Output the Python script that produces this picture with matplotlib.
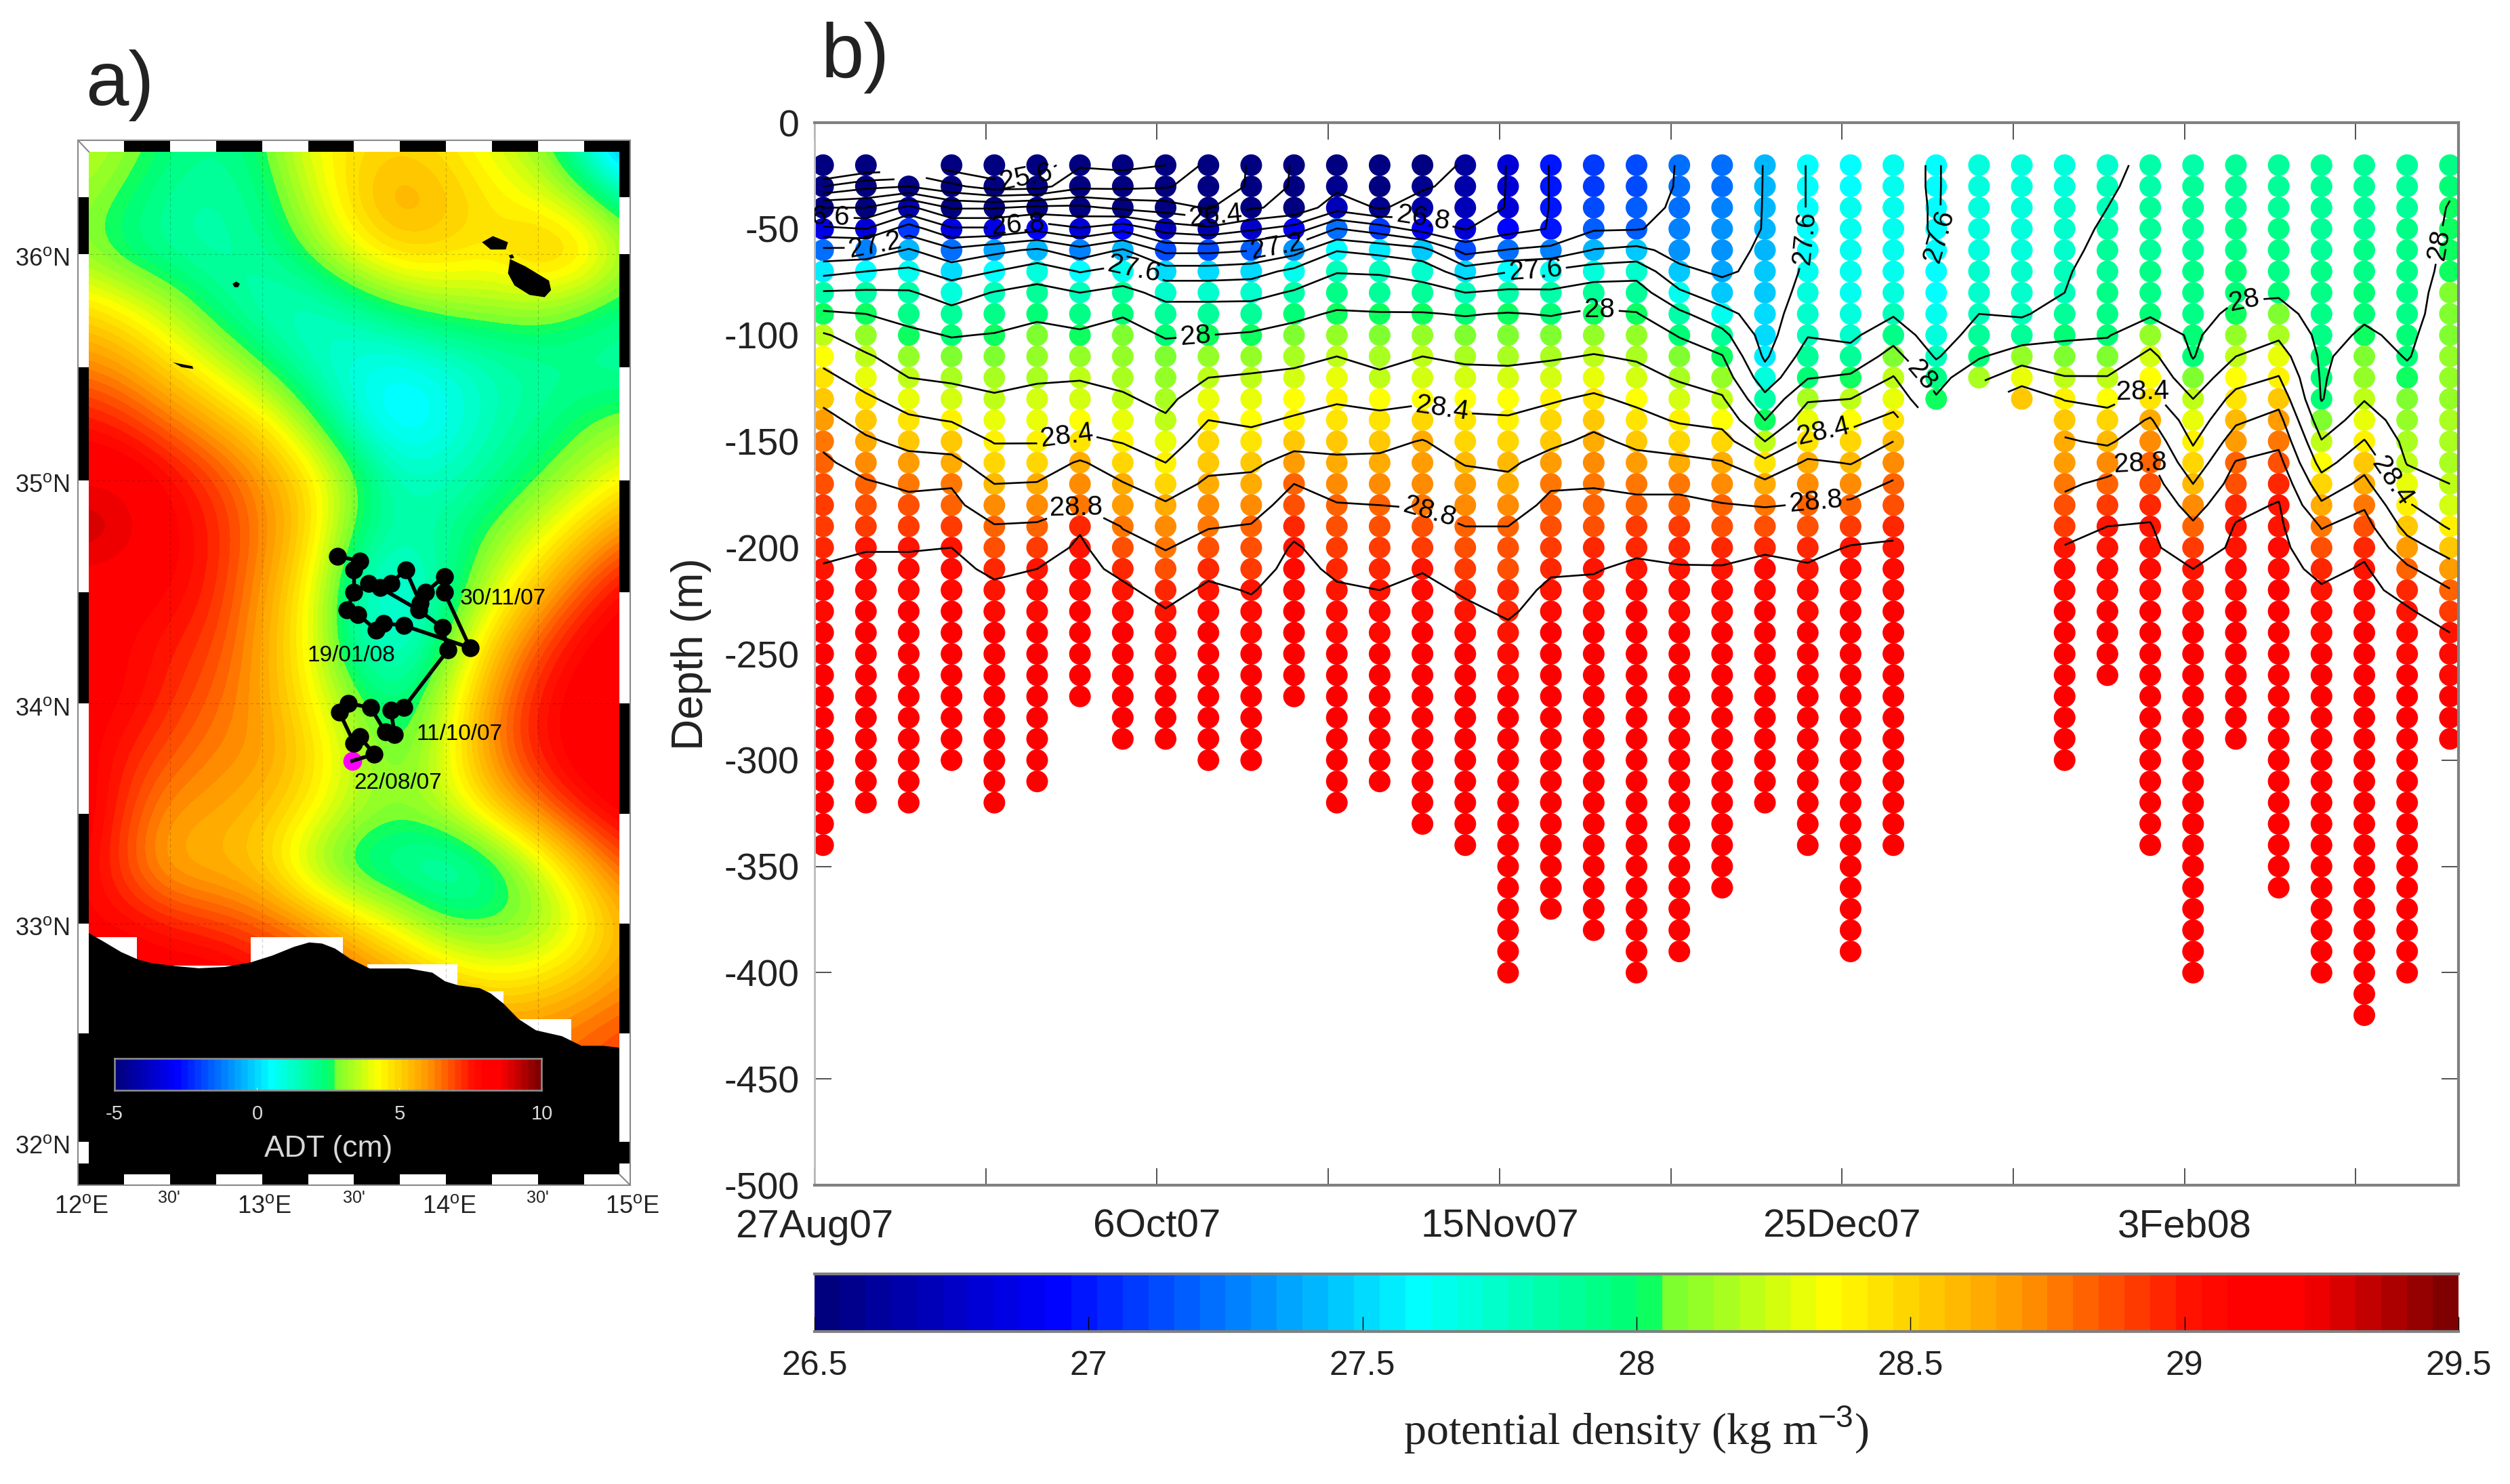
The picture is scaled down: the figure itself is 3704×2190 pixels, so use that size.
"""Map of ADT with the glider track (a) and potential density section (b)."""

import numpy as np
import matplotlib
matplotlib.use("Agg")
import matplotlib.pyplot as plt
from matplotlib.colors import LinearSegmentedColormap
from matplotlib.patches import Rectangle

W, H = 3704, 2190

plt.rcParams['font.family'] = ['Liberation Sans', 'DejaVu Sans']
plt.rcParams['mathtext.fontset'] = 'custom'
plt.rcParams['mathtext.rm'] = 'Liberation Sans'
plt.rcParams['mathtext.default'] = 'rm'
plt.rcParams['axes.unicode_minus'] = False

# ---- panel a data ----
adt_lon = [12.0, 12.25, 12.5, 12.75, 13.0, 13.25, 13.5, 13.75, 14.0, 14.25, 14.5, 14.75, 15.0]
adt_lat = [36.5, 36.25, 36.0, 35.75, 35.5, 35.25, 35.0, 34.75, 34.5, 34.25, 34.0, 33.75, 33.5,
           33.25, 33.0, 32.75, 32.5, 32.25]
adt_cm = [
    [3.8, 3.2, 2.4, 2.0, 2.6, 4.1, 4.7, 4.9, 4.6, 3.9, 3.0, 1.2, -2.0],
    [3.2, 2.6, 1.9, 1.7, 2.2, 3.6, 5.0, 5.8, 5.3, 4.6, 4.0, 3.0, 1.6],
    [3.0, 2.2, 1.8, 1.6, 1.9, 2.8, 4.2, 5.0, 4.9, 4.6, 5.6, 5.2, 3.4],
    [4.9, 4.3, 3.4, 2.2, 1.4, 1.2, 1.8, 2.6, 3.1, 3.2, 3.2, 2.7, 2.2],
    [6.2, 5.8, 4.8, 3.8, 2.6, 1.4, 0.8, 0.6, 1.0, 1.5, 1.8, 1.8, 1.6],
    [7.7, 7.2, 6.4, 5.5, 4.6, 3.0, 1.0, 0.0, 0.6, 1.5, 2.0, 2.6, 3.0],
    [8.5, 8.5, 7.8, 7.0, 6.0, 4.8, 3.0, 1.4, 1.4, 1.9, 2.6, 3.4, 4.3],
    [9.2, 9.0, 8.1, 7.4, 6.3, 5.0, 2.6, 1.6, 2.0, 2.8, 3.8, 5.0, 6.3],
    [8.3, 8.2, 8.0, 7.3, 6.0, 4.4, 1.6, 0.8, 1.8, 3.6, 5.2, 6.8, 8.0],
    [8.0, 8.0, 7.5, 7.0, 5.8, 4.2, 1.7, 0.9, 2.6, 5.0, 6.8, 8.0, 8.4],
    [8.2, 8.0, 7.3, 6.6, 5.8, 4.5, 2.9, 2.0, 3.6, 6.0, 7.6, 8.3, 8.6],
    [8.2, 7.5, 6.8, 6.2, 6.0, 5.0, 3.6, 2.5, 4.0, 6.2, 7.6, 8.4, 8.8],
    [8.5, 7.2, 6.0, 5.8, 5.4, 4.6, 3.4, 3.1, 3.6, 5.0, 6.4, 7.6, 8.3],
    [8.2, 6.9, 5.5, 5.4, 5.0, 3.2, 2.0, 1.5, 1.2, 2.0, 3.6, 5.4, 7.0],
    [8.0, 7.8, 7.4, 7.0, 6.6, 6.0, 4.8, 3.8, 2.6, 2.5, 2.9, 4.1, 5.6],
    [8.4, 8.6, 8.4, 8.4, 7.8, 7.4, 6.6, 5.8, 5.0, 4.4, 4.6, 5.2, 6.0],
    [8.6, 8.6, 8.6, 8.6, 8.4, 8.0, 7.6, 7.0, 6.6, 6.2, 6.2, 6.6, 7.0],
    [8.6, 8.6, 8.6, 8.6, 8.4, 8.0, 7.6, 7.0, 6.8, 6.6, 6.6, 6.8, 7.2],
]

track_lon = [13.49, 13.61, 13.53, 13.50, 13.42, 13.47, 13.59, 13.67, 13.72, 13.70, 13.77, 14.01,
             13.98, 13.85, 13.64, 13.58, 13.70, 13.78, 13.86, 13.89, 13.99, 13.99, 14.13,
             13.77, 13.66, 13.62, 13.52, 13.46, 13.50, 13.50, 13.53, 13.41]
track_lat = [33.74, 33.77, 33.85, 33.82, 33.96, 34.00, 33.98, 33.87, 33.86, 33.97, 33.98, 34.24,
             34.34, 34.42, 34.52, 34.54, 34.54, 34.60, 34.45, 34.50, 34.57, 34.50, 34.25,
             34.35, 34.36, 34.33, 34.40, 34.42, 34.50, 34.60, 34.64, 34.66]

coast_lon = [12.0, 12.059, 12.141, 12.235, 12.329, 12.399, 12.516, 12.657, 12.798, 12.939, 13.056,
             13.174, 13.256, 13.326, 13.397, 13.479, 13.585, 13.737, 13.796, 13.925, 13.995,
             14.066, 14.183, 14.242, 14.312, 14.394, 14.488, 14.629, 14.735, 14.852, 14.934,
             15.0, 15.0, 12.0]
coast_lat = [32.99, 32.958, 32.918, 32.871, 32.836, 32.821, 32.808, 32.797, 32.803, 32.824, 32.855,
             32.895, 32.915, 32.910, 32.887, 32.840, 32.796, 32.796, 32.796, 32.777, 32.737,
             32.719, 32.706, 32.682, 32.635, 32.564, 32.513, 32.486, 32.442, 32.442, 32.434,
             32.43, 31.8, 31.8]

# islands as (lon, lat) outlines
islands = [
    ([14.195, 14.254, 14.336, 14.324, 14.242], [36.053, 36.080, 36.053, 36.021, 36.021]),
    ([14.34, 14.36, 14.37, 14.35], [35.995, 36.0, 35.985, 35.98]),
    ([14.347, 14.430, 14.559, 14.570, 14.535, 14.453, 14.371, 14.336],
     [35.979, 35.947, 35.884, 35.842, 35.811, 35.821, 35.863, 35.916]),
    ([12.84, 12.86, 12.88, 12.87, 12.85], [35.87, 35.88, 35.87, 35.855, 35.855]),
    ([12.516, 12.622, 12.627, 12.563], [35.523, 35.506, 35.494, 35.502]),
]

# blocks without data next to the coast: lon0, lon1, top lat
nodata_blocks = [(12.06, 12.32, 32.94), (12.52, 12.88, 32.81), (12.94, 13.44, 32.94),
                 (13.57, 14.06, 32.816), (14.06, 14.31, 32.69), (14.40, 14.68, 32.565)]

top_black = [(12.25, 12.5), (12.75, 13.0), (13.25, 13.5), (13.75, 14.0), (14.25, 14.5), (14.75, 15.0)]
bottom_black = [(12.0, 12.25), (12.5, 12.75), (13.0, 13.25), (13.5, 13.75), (14.0, 14.25), (14.5, 14.75)]
left_black = [(36.0, 36.25), (35.0, 35.5), (34.0, 34.5), (33.0, 33.5), (32.0, 32.5), (31.8, 31.9)]
right_black = [(36.25, 36.5), (35.5, 36.0), (34.5, 35.0), (33.5, 34.0), (32.5, 33.0), (31.9, 32.0)]

adt_ticks = [-5, 0, 5, 10]
lat_labels = [36, 35, 34, 33, 32]
lon_labels = [12, 13, 14, 15]

# ---- panel b data ----
# days since 27Aug07 of each profile, density from 20 m down in steps of 10 m
profile_day = [1, 6, 11, 16, 21, 26, 31, 36, 41, 46, 51, 56, 61, 66, 71, 76, 81, 86, 91, 96,
               101, 106, 111, 116, 121, 126, 131, 136, 141, 146, 151, 156, 161, 166, 171, 176,
               181, 186, 191]
max_depth = [340, 320, 320, 300, 320, 310, 270, 290, 290, 300, 300, 270, 320, 310, 330, 340, 400,
             370, 380, 400, 390, 360, 320, 340, 390, 340, 130, 120, 130, 300, 260, 340, 400, 290,
             360, 400, 420, 400, 290]
sigma_profiles = [
    [25.2, 25.8, 26.4, 26.85, 27.24, 27.54, 27.82, 28.03, 28.22, 28.34, 28.45, 28.56, 28.66, 28.77, 28.83, 28.86, 28.9, 28.93, 28.97, 29.01, 29.04, 29.07, 29.09,
     29.1, 29.1, 29.1, 29.1, 29.1, 29.1, 29.1, 29.1, 29.1, 29.1],
    [25.4, 25.95, 26.4, 26.8, 27.25, 27.6, 27.83, 28.0, 28.11, 28.22, 28.32, 28.43, 28.53, 28.63, 28.73, 28.82, 28.87, 28.93, 28.99, 29.04, 29.07, 29.09,
     29.1, 29.1, 29.1, 29.1, 29.1, 29.1, 29.1, 29.1, 29.1],
    [None, 26.0, 26.65, 27.1, 27.42, 27.64, 27.82, 27.94, 28.04, 28.12, 28.2, 28.32, 28.43, 28.55, 28.66, 28.77, 28.85, 28.92, 28.99, 29.04, 29.06, 29.08,
     29.1, 29.1, 29.1, 29.1, 29.1, 29.1, 29.1, 29.1, 29.1],
    [25.5, 25.85, 26.38, 26.83, 27.24, 27.52, 27.71, 27.86, 27.99, 28.08, 28.17, 28.28, 28.39, 28.52, 28.65, 28.79, 28.84, 28.92, 29.0, 29.04, 29.07, 29.09,
     29.1, 29.1, 29.1, 29.1, 29.1, 29.1, 29.1],
    [25.4, 25.7, 26.38, 26.83, 27.35, 27.6, 27.81, 27.91, 28.01, 28.08, 28.15, 28.22, 28.3, 28.39, 28.49, 28.6, 28.71, 28.81, 28.89, 28.97, 29.03, 29.06, 29.09,
     29.1, 29.1, 29.1, 29.1, 29.1, 29.1, 29.1, 29.1],
    [25.45, 25.72, 26.45, 26.95, 27.43, 27.71, 27.86, 27.97, 28.05, 28.11, 28.18, 28.25, 28.32, 28.39, 28.5, 28.61, 28.72, 28.82, 28.91, 29.0, 29.04, 29.07, 29.09,
     29.1, 29.1, 29.1, 29.1, 29.1, 29.1, 29.1],
    [25.78, 25.95, 26.45, 26.82, 27.27, 27.59, 27.8, 27.92, 28.03, 28.11, 28.19, 28.26, 28.34, 28.44, 28.62, 28.71, 28.79, 28.98, 29.03, 29.05, 29.07, 29.09,
     29.1, 29.1, 29.1, 29.1],
    [25.75, 25.95, 26.35, 26.95, 27.42, 27.67, 27.86, 27.99, 28.05, 28.1, 28.16, 28.22, 28.3, 28.39, 28.5, 28.61, 28.7, 28.79, 28.87, 28.96, 29.03, 29.06, 29.08,
     29.1, 29.1, 29.1, 29.1, 29.1],
    [25.8, 25.98, 26.3, 26.72, 27.15, 27.49, 27.74, 27.88, 27.99, 28.05, 28.1, 28.16, 28.22, 28.31, 28.4, 28.51, 28.62, 28.71, 28.79, 28.87, 28.94, 29.01, 29.04, 29.07, 29.09,
     29.1, 29.1, 29.1],
    [26.05, 26.1, 26.18, 26.65, 27.15, 27.49, 27.74, 27.88, 28.0, 28.1, 28.2, 28.3, 28.4, 28.48, 28.55, 28.63, 28.71, 28.79, 28.87, 28.96, 29.03, 29.06, 29.08,
     29.1, 29.1, 29.1, 29.1, 29.1, 29.1],
    [26.22, 26.22, 26.38, 26.77, 27.19, 27.52, 27.74, 27.89, 28.02, 28.12, 28.22, 28.3, 28.37, 28.46, 28.56, 28.65, 28.73, 28.81, 28.87, 28.93, 28.99, 29.04, 29.07, 29.09,
     29.1, 29.1, 29.1, 29.1, 29.1],
    [26.42, 26.43, 26.45, 26.88, 27.32, 27.65, 27.82, 27.96, 28.06, 28.15, 28.24, 28.33, 28.42, 28.54, 28.67, 28.8, 28.87, 28.95, 29.02, 29.05, 29.07, 29.09,
     29.1, 29.1, 29.1, 29.1],
    [26.5, 26.55, 26.72, 27.21, 27.59, 27.79, 27.91, 28.02, 28.11, 28.2, 28.29, 28.38, 28.46, 28.55, 28.63, 28.73, 28.81, 28.87, 28.92, 28.97, 29.02, 29.05, 29.07, 29.09,
     29.1, 29.1, 29.1, 29.1, 29.1, 29.1, 29.1],
    [26.5, 26.52, 26.58, 27.1, 27.54, 27.78, 27.9, 28.01, 28.08, 28.15, 28.23, 28.34, 28.45, 28.55, 28.64, 28.72, 28.8, 28.85, 28.9, 28.95, 29.0, 29.04, 29.07, 29.09,
     29.1, 29.1, 29.1, 29.1, 29.1, 29.1],
    [26.52, 26.58, 26.68, 26.92, 27.47, 27.72, 27.88, 28.01, 28.1, 28.2, 28.28, 28.37, 28.48, 28.61, 28.67, 28.73, 28.79, 28.85, 28.92, 28.99, 29.04, 29.07, 29.09,
     29.1, 29.1, 29.1, 29.1, 29.1, 29.1, 29.1, 29.1, 29.1],
    [26.62, 26.65, 26.7, 26.79, 27.13, 27.49, 27.8, 27.99, 28.08, 28.17, 28.25, 28.34, 28.43, 28.51, 28.59, 28.66, 28.73, 28.8, 28.86, 28.92, 28.98, 29.03, 29.06, 29.08,
     29.1, 29.1, 29.1, 29.1, 29.1, 29.1, 29.1, 29.1, 29.1],
    [26.81, 26.81, 26.81, 26.93, 27.21, 27.59, 27.84, 28.01, 28.08, 28.16, 28.25, 28.33, 28.42, 28.49, 28.57, 28.64, 28.72, 28.8, 28.85, 28.89, 28.94, 28.98, 29.03, 29.05, 29.07, 29.09,
     29.1, 29.1, 29.1, 29.1, 29.1, 29.1, 29.1, 29.1, 29.1, 29.1, 29.1, 29.1, 29.1],
    [27.01, 27.01, 27.01, 27.01, 27.25, 27.63, 27.83, 27.99, 28.09, 28.18, 28.28, 28.38, 28.47, 28.56, 28.67, 28.78, 28.84, 28.88, 28.93, 28.98, 29.03, 29.06, 29.08,
     29.1, 29.1, 29.1, 29.1, 29.1,  29.1, 29.1, 29.1, 29.1, 29.1,  29.1, 29.1, 29.1],
    [27.08, 27.1, 27.13, 27.18, 27.41, 27.7, 27.9, 28.03, 28.12, 28.21, 28.32, 28.43, 28.55, 28.64, 28.72, 28.79, 28.84, 28.89, 28.94, 28.99, 29.03, 29.06, 29.08,
     29.1, 29.1, 29.1, 29.1, 29.1,  29.1, 29.1, 29.1, 29.1, 29.1,  29.1, 29.1, 29.1, 29.1],
    [27.12, 27.14, 27.16, 27.19, 27.45, 27.73, 27.89, 28.01, 28.1, 28.18, 28.26, 28.36, 28.46, 28.56, 28.66, 28.76, 28.84, 28.91, 28.97, 29.03, 29.06, 29.08,
     29.1, 29.1, 29.1, 29.1, 29.1,  29.1, 29.1, 29.1, 29.1, 29.1,  29.1, 29.1, 29.1, 29.1, 29.1,  29.1, 29.1],
    [27.21, 27.21, 27.22, 27.25, 27.33, 27.44, 27.63, 27.84, 27.99, 28.08, 28.18, 28.28, 28.38, 28.51, 28.65, 28.76, 28.84, 28.9, 28.96, 29.01, 29.04, 29.06, 29.08,
     29.1, 29.1, 29.1, 29.1, 29.1,  29.1, 29.1, 29.1, 29.1, 29.1,  29.1, 29.1, 29.1, 29.1, 29.1],
    [27.22, 27.24, 27.27, 27.3, 27.34, 27.37, 27.48, 27.67, 27.86, 28.01, 28.11, 28.22, 28.34, 28.48, 28.61, 28.71, 28.81, 28.88, 28.95, 29.01, 29.04, 29.06, 29.08,
     29.1, 29.1, 29.1, 29.1, 29.1,  29.1, 29.1, 29.1, 29.1, 29.1,  29.1, 29.1],
    [27.41, 27.41, 27.41, 27.41, 27.43, 27.45, 27.47, 27.49, 27.52, 27.57, 27.69, 27.85, 28.0, 28.2, 28.45, 28.64, 28.79, 28.89, 28.98, 29.04, 29.07, 29.09,
     29.1, 29.1, 29.1, 29.1, 29.1,  29.1, 29.1, 29.1, 29.1],
    [27.61, 27.61, 27.61, 27.61, 27.62, 27.64, 27.68, 27.74, 27.79, 27.89, 27.99, 28.18, 28.31, 28.46, 28.63, 28.73, 28.81, 28.88, 28.95, 29.02, 29.05, 29.07, 29.09,
     29.1, 29.1, 29.1, 29.1, 29.1,  29.1, 29.1, 29.1, 29.1, 29.1],
    [27.62, 27.62, 27.63, 27.63, 27.64, 27.65, 27.67, 27.71, 27.76, 27.87, 28.03, 28.2, 28.35, 28.48, 28.59, 28.72, 28.83, 28.92, 29.01, 29.04, 29.06, 29.08, 29.09,
     29.1, 29.1, 29.1, 29.1, 29.1,  29.1, 29.1, 29.1, 29.1, 29.1,  29.1, 29.1, 29.1, 29.1, 29.1],
    [27.63, 27.63, 27.64, 27.64, 27.65, 27.67, 27.71, 27.78, 27.93, 28.07, 28.21, 28.32, 28.45, 28.6, 28.71, 28.82, 28.89, 28.96, 29.02, 29.05, 29.07, 29.09,
     29.1, 29.1, 29.1, 29.1, 29.1,  29.1, 29.1, 29.1, 29.1, 29.1,  29.1],
    [27.59, 27.59, 27.59, 27.59, 27.6, 27.61, 27.62, 27.63, 27.68, 27.78, 27.92, 28.02],
    [27.68, 27.68, 27.69, 27.7, 27.71, 27.73, 27.76, 27.8, 27.89, 27.98, 28.15],
    [27.68, 27.69, 27.7, 27.7, 27.71, 27.72, 27.75, 27.78, 27.9, 28.11, 28.32, 28.52],
    [27.7, 27.71, 27.72, 27.73, 27.75, 27.78, 27.8, 27.88, 27.97, 28.08, 28.21, 28.39, 28.52, 28.62, 28.7, 28.77, 28.85, 28.93, 29.01, 29.04, 29.06, 29.08, 29.09,
     29.1, 29.1, 29.1, 29.1, 29.1,  29.1],
    [27.76, 27.78, 27.8, 27.83, 27.86, 27.89, 27.92, 27.95, 27.99, 28.07, 28.21, 28.35, 28.47, 28.57, 28.72, 28.84, 28.92, 29.0, 29.03, 29.05, 29.07, 29.09,
     29.1, 29.1, 29.1],
    [27.84, 27.85, 27.86, 27.88, 27.9, 27.92, 27.95, 27.98, 28.11, 28.25, 28.34, 28.46, 28.62, 28.73, 28.82, 28.89, 28.96, 29.01, 29.03, 29.05, 29.07, 29.09,
     29.1, 29.1, 29.1, 29.1, 29.1,  29.1, 29.1, 29.1, 29.1, 29.1,  29.1],
    [27.85, 27.86, 27.87, 27.88, 27.9, 27.91, 27.93, 27.95, 27.97, 27.99, 28.08, 28.2, 28.29, 28.38, 28.48, 28.6, 28.72, 28.83, 28.91, 29.0, 29.03, 29.06, 29.08, 29.09,
     29.1, 29.1, 29.1, 29.1, 29.1,  29.1, 29.1, 29.1, 29.1, 29.1,  29.1, 29.1, 29.1, 29.1, 29.1],
    [27.87, 27.88, 27.9, 27.92, 27.94, 27.96, 27.98, 28.03, 28.11, 28.2, 28.33, 28.46, 28.57, 28.69, 28.81, 28.88, 28.96, 29.01, 29.03, 29.05, 29.07, 29.09,
     29.1, 29.1, 29.1, 29.1, 29.1,  29.1],
    [27.87, 27.88, 27.89, 27.91, 27.93, 27.95, 27.98, 28.06, 28.17, 28.29, 28.41, 28.54, 28.66, 28.76, 28.86, 28.95, 29.01, 29.03, 29.05, 29.07, 29.09,
     29.1, 29.1, 29.1, 29.1, 29.1,  29.1, 29.1, 29.1, 29.1, 29.1,  29.1, 29.1, 29.1, 29.1],
    [27.86, 27.87, 27.88, 27.89, 27.9, 27.91, 27.92, 27.93, 27.95, 27.97, 27.98, 27.99, 28.09, 28.21, 28.33, 28.48, 28.63, 28.79, 28.87, 28.95, 29.02, 29.05, 29.07, 29.09,
     29.1, 29.1, 29.1, 29.1, 29.1,  29.1, 29.1, 29.1, 29.1, 29.1,  29.1, 29.1, 29.1, 29.1, 29.1],
    [27.87, 27.88, 27.89, 27.9, 27.92, 27.94, 27.96, 27.98, 28.02, 28.08, 28.13, 28.19, 28.29, 28.41, 28.53, 28.65, 28.78, 28.87, 28.96, 29.02, 29.05, 29.07, 29.09,
     29.1, 29.1, 29.1, 29.1, 29.1,  29.1, 29.1, 29.1, 29.1, 29.1,  29.1, 29.1, 29.1, 29.1, 29.1,  29.1, 29.1, 29.1],
    [27.88, 27.89, 27.9, 27.91, 27.92, 27.93, 27.94, 27.95, 27.97, 27.99, 28.04, 28.07, 28.11, 28.15, 28.19, 28.29, 28.42, 28.54, 28.68, 28.83, 28.94, 29.02, 29.05, 29.07, 29.09,
     29.1, 29.1, 29.1, 29.1, 29.1,  29.1, 29.1, 29.1, 29.1, 29.1,  29.1, 29.1, 29.1, 29.1],
    [27.94, 27.98, 28.01, 28.02, 28.03, 28.04, 28.06, 28.07, 28.09, 28.1, 28.12, 28.14, 28.15, 28.17, 28.18, 28.2, 28.27, 28.38, 28.52, 28.67, 28.81, 28.91, 29.0, 29.04, 29.07, 29.09,
     29.1, 29.1],
]

contour_levels = [25.6, 25.8, 26.0, 26.2, 26.4, 26.6, 26.8, 27.0, 27.2, 27.4, 27.6, 27.8, 28.0,
                  28.2, 28.4, 28.6, 28.8, 29.0]
# where the contour labels sit: level -> (day, depth)
label_spots = {
    25.6: [(24.8, -32)],
    26.4: [(47, -47)],
    26.6: [(0.5, -42)],
    26.8: [(23.8, -50), (71, -46)],
    27.2: [(7, -57), (54, -58)],
    27.6: [(37.2, -70), (84.2, -70), (115, -54), (131, -53)],
    28.0: [(44.5, -100), (91.7, -87), (128.8, -121), (167, -84), (189, -57)],
    28.4: [(29.5, -148), (73.3, -134), (117.9, -147), (155.4, -129), (183.7, -170)],
    28.8: [(30.3, -179), (72, -181), (116.9, -175), (155, -162)],
}

x_tick_days = [0, 20, 40, 60, 80, 100, 120, 140, 160, 180]
x_tick_labels = ['27Aug07', '', '6Oct07', '', '15Nov07', '', '25Dec07', '', '3Feb08', '']
y_ticks = [0, -50, -100, -150, -200, -250, -300, -350, -400, -450, -500]
sigma_ticks = [26.5, 27, 27.5, 28, 28.5, 29, 29.5]

cmap = LinearSegmentedColormap.from_list('density', [
    (0.0, (0, 0, 0.5)), (0.14, (0, 0, 1)), (0.365, (0, 1, 1)), (0.507, (0, 1, 0.4)),
    (0.515, (0.45, 1, 0.2)), (0.62, (1, 1, 0)), (0.735, (1, 0.6, 0)), (0.84, (1, 0.08, 0)),
    (0.87, (1, 0, 0)), (0.91, (1, 0, 0)), (1.0, (0.5, 0, 0))], N=64)


def px_axes(fig, left, top, right, bottom):
    # axes placed by pixel edges of the picture
    return fig.add_axes([left / W, 1 - bottom / H, (right - left) / W, (bottom - top) / H])


def px_text(fig, x, y, s, **kw):
    kw.setdefault('ha', 'center')
    kw.setdefault('va', 'center')
    fig.text(x / W, 1 - y / H, s, **kw)


def merc(lat):
    return np.log(np.tan(np.pi / 4 + np.radians(lat) / 2))


def merc_inv(y):
    return np.degrees(2 * np.arctan(np.exp(y)) - np.pi / 2)


def draw_map(fig):
    # the ADT field goes on its own axes, from 36.5N down to 32.25N
    field = px_axes(fig, 115, 207, 930, 1606)
    field.imshow(np.array(adt_cm), cmap=cmap, vmin=-5, vmax=10, aspect='auto',
                 interpolation='bicubic', interpolation_stage='data',
                 extent=(adt_lon[0] - 0.125, adt_lon[-1] + 0.125,
                         adt_lat[-1] - 0.125, adt_lat[0] + 0.125))
    field.set_xlim(12, 15)
    field.set_ylim(adt_lat[-1], adt_lat[0])
    field.axis('off')

    ax = px_axes(fig, 115, 207, 930, 1749)
    ax.patch.set_visible(False)
    ax.set_xlim(12, 15)
    ax.set_yscale('function', functions=(merc, merc_inv))
    ax.set_ylim(31.8, 36.5)

    for lon0, lon1, top in nodata_blocks:
        ax.add_patch(Rectangle((lon0, 32.3), lon1 - lon0, top - 32.3, color='white', lw=0, zorder=2))

    # dashed graticule
    for lon in [12.5, 13, 13.5, 14, 14.5]:
        ax.plot([lon, lon], [31.8, 36.5], color='k', lw=0.9, ls=(0, (4, 3)), alpha=0.18, zorder=2.5)
    for lat in lat_labels:
        ax.plot([12, 15], [lat, lat], color='k', lw=0.9, ls=(0, (4, 3)), alpha=0.18, zorder=2.5)

    ax.fill(coast_lon, coast_lat, color='k', lw=0, zorder=3)
    for lons, lats in islands:
        ax.fill(lons, lats, color='k', lw=0, zorder=3)

    # fancy frame
    dx, dy_top, dy_bot = 0.059, 0.05, 0.05
    ax.add_patch(Rectangle((12, 36.5 - dy_top), 3, dy_top, color='white', lw=0, zorder=6))
    ax.add_patch(Rectangle((12, 31.8), 3, dy_bot, color='white', lw=0, zorder=6))
    ax.add_patch(Rectangle((12, 31.8), dx, 4.7, color='white', lw=0, zorder=6))
    ax.add_patch(Rectangle((15 - dx, 31.8), dx, 4.7, color='white', lw=0, zorder=6))
    for lon0, lon1 in top_black:
        ax.add_patch(Rectangle((lon0, 36.5 - dy_top), lon1 - lon0, dy_top, color='k', lw=0, zorder=7))
    for lon0, lon1 in bottom_black:
        ax.add_patch(Rectangle((lon0, 31.8), lon1 - lon0, dy_bot, color='k', lw=0, zorder=7))
    for lat0, lat1 in left_black:
        ax.add_patch(Rectangle((12, lat0), dx, lat1 - lat0, color='k', lw=0, zorder=7))
    for lat0, lat1 in right_black:
        ax.add_patch(Rectangle((15 - dx, lat0), dx, lat1 - lat0, color='k', lw=0, zorder=7))
    ax.plot([12, 12 + dx], [36.5, 36.5 - dy_top], color='#888888', lw=1.5, zorder=8)
    ax.plot([15 - dx, 15], [31.8 + dy_bot, 31.8], color='#888888', lw=1.5, zorder=8)

    # glider track
    ax.plot(track_lon[0], track_lat[0], 'o', color='#ff00ff', ms=19, zorder=4)
    ax.plot(track_lon, track_lat, color='k', lw=4, zorder=5)
    ax.plot(track_lon[1:], track_lat[1:], 'o', color='k', ms=19, mew=0, zorder=5)

    ax.set_xticks([])
    ax.set_yticks([])
    ax.minorticks_off()
    ax.tick_params(which='both', left=False, labelleft=False)
    for sp in ax.spines.values():
        sp.set_color('#888888')
        sp.set_linewidth(1.5)
        sp.set_zorder(9)

    # colour bar sitting on the land
    cax = px_axes(fig, 169, 1562, 799, 1609)
    cax.imshow(np.linspace(0, 1, 256)[None, :], cmap=cmap, aspect='auto', extent=(-5, 10, 0, 1))
    cax.set_xticks(adt_ticks)
    cax.set_yticks([])
    cax.tick_params(axis='x', direction='in', length=3, color='white', labelbottom=False)
    for sp in cax.spines.values():
        sp.set_color('#909090')
        sp.set_linewidth(1.8)
    for val, x in zip(adt_ticks, [169, 380, 590, 800]):
        px_text(fig, x, 1644, str(val), fontsize=21, color='#d8d8d8')
    px_text(fig, 485, 1696, 'ADT (cm)', fontsize=32, color='#d8d8d8')

    # map tick labels
    for lat, y in zip(lat_labels, [382, 716, 1046, 1370, 1692]):
        px_text(fig, 103, y, f'{lat}$^{{o}}$N', fontsize=26, ha='right', color='#222222')
    for lon, x in zip(lon_labels, [120, 390, 663, 933]):
        px_text(fig, x, 1781, f'{lon}$^{{o}}$E', fontsize=26, color='#222222')
    for x in [249, 522, 793]:
        px_text(fig, x, 1768, "30'", fontsize=18, color='#222222')

    # track dates
    px_text(fig, 742, 884, '30/11/07', fontsize=24)
    px_text(fig, 518, 967, '19/01/08', fontsize=24)
    px_text(fig, 678, 1083, '11/10/07', fontsize=24)
    px_text(fig, 587, 1155, '22/08/07', fontsize=24)

    px_text(fig, 177, 126, 'a)', fontsize=82, color='#222222')


def draw_section(fig):
    ax = px_axes(fig, 1202, 181, 3628, 1749)
    depths = np.arange(20, 430, 10)
    sigma = np.full((len(depths), len(profile_day)), np.nan)
    for i, (profile, bottom) in enumerate(zip(sigma_profiles, max_depth)):
        assert len(profile) == (bottom - 10) // 10, i
        for j, value in enumerate(profile):
            if value is not None:
                sigma[j, i] = value

    days_grid, depth_grid = np.meshgrid(profile_day, -depths)
    ok = ~np.isnan(sigma)
    ax.scatter(days_grid[ok], depth_grid[ok], c=sigma[ok], cmap=cmap, vmin=26.5, vmax=29.5,
               s=530, linewidths=0, zorder=2)

    ax.set_xlim(0, 192)
    ax.set_ylim(-500, 0)

    # one contour set per level so each label lands on its own line
    masked = np.ma.masked_invalid(sigma[::-1])
    for level in contour_levels:
        cs = ax.contour(profile_day, -depths[::-1], masked, levels=[level], colors='k',
                        linewidths=1.9, zorder=3)
        if level in label_spots:
            ax.clabel(cs, manual=label_spots[level], inline=True, inline_spacing=6,
                      fontsize=29, fmt='%g', colors='k')

    ax.set_xticks(x_tick_days)
    ax.set_xticklabels(x_tick_labels)
    ax.set_yticks(y_ticks)
    ax.tick_params(axis='both', direction='in', length=18, width=1.2, top=True, right=True,
                   labelcolor='#222222', color='#333333')
    ax.tick_params(axis='x', labelsize=42, pad=25)
    ax.tick_params(axis='y', labelsize=40, pad=16)
    for name, sp in ax.spines.items():
        sp.set_color('#bbbbbb' if name == 'left' else '#808080')
        sp.set_linewidth(2 if name == 'left' else 3)
    px_text(fig, 1020, 965, 'Depth (m)', fontsize=46, rotation=90, color='#222222')
    px_text(fig, 1262, 85, 'b)', fontsize=82, color='#222222')

    cax = px_axes(fig, 1202, 1880, 3628, 1965)
    cax.imshow(np.linspace(0, 1, 256)[None, :], cmap=cmap, aspect='auto', extent=(26.5, 29.5, 0, 1))
    cax.set_xticks(sigma_ticks)
    cax.set_xticklabels([f'{t:g}' for t in sigma_ticks])
    cax.set_yticks([])
    cax.tick_params(axis='x', direction='in', length=16, width=1.0, labelsize=36, pad=20,
                    labelcolor='#222222')
    for name, sp in cax.spines.items():
        sp.set_color('#808080')
        sp.set_linewidth(3 if name in ('top', 'bottom') else 0)
    px_text(fig, 2414, 2110, 'potential density (kg m$^{-3}$)', fontsize=47.5, color='#222222',
            family=['Liberation Serif', 'DejaVu Serif'])


def main():
    fig = plt.figure(figsize=(W / 100, H / 100), dpi=100)
    draw_map(fig)
    draw_section(fig)
    fig.savefig('out.png', dpi=100)


if __name__ == "__main__":
    main()
